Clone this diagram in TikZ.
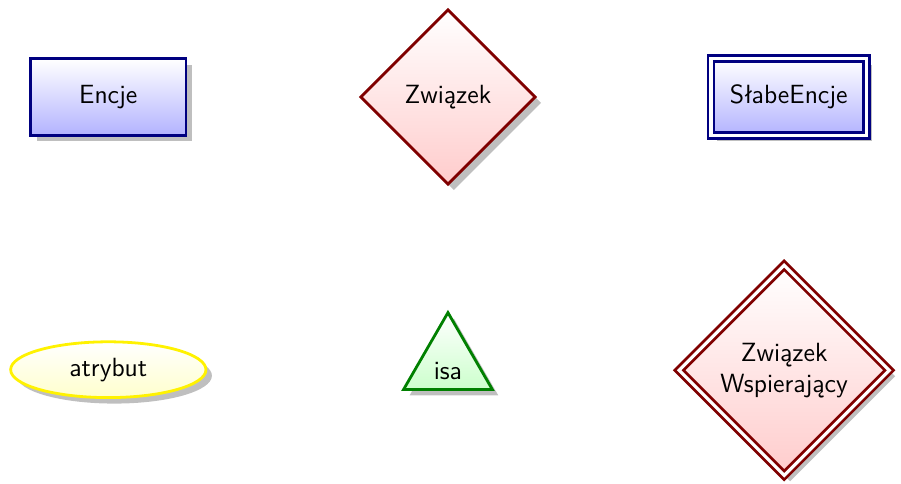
\documentclass[tikz,border=0pt]{standalone}
\usepackage{fontspec}
\usepackage{tikz}
\usetikzlibrary{shapes.geometric, shadows}

\begin{document}
\begin{tikzpicture}[
    font=\sffamily\fontsize{13.2}{15.5}\selectfont,
    ksztalt/.style={line width=1.4pt, drop shadow={shadow xshift=3pt, shadow yshift=-3pt, fill=black!50, opacity=.5}},
    encja/.style={ksztalt, rectangle, draw=blue!50!black, top color=white, bottom color=blue!30, minimum width=78pt, minimum height=38.5pt},
    slabaencja/.style={encja, double, double distance=1.6pt},
    zwiazek/.style={ksztalt, diamond, draw=red!50!black, top color=white, bottom color=red!20, minimum width=88pt, minimum height=88pt, inner sep=0pt},
    zwiazekwsp/.style={zwiazek, double, double distance=1.6pt, minimum width=106pt, minimum height=106pt, align=center},
    atr/.style={ksztalt, ellipse, draw=yellow, top color=white, bottom color=yellow!20, minimum width=98pt, minimum height=28pt},
    dziedzicz/.style={ksztalt, isosceles triangle, isosceles triangle apex angle=60, shape border rotate=90, inner sep=0.47em, draw=green!50!black, top color=white, bottom color=green!20}
]
    \useasboundingbox (0, 0) rectangle (15.89, -8.52);

    % pierwszy rząd
    \node[encja] (encje) at (1.91, -1.71) {Encje};
    \node[zwiazek] (zwiazek) at (7.90, -1.71) {Związek};
    \node[slabaencja] (slabe) at (13.91, -1.71) {SłabeEncje};

    % drugi rząd
    \node[atr] (atrybut) at (1.91, -6.52) {atrybut};
    \node[dziedzicz] (isa) at (7.90, -6.55) {isa};
    \node[zwiazekwsp] (wsp) at (13.83, -6.53) {Związek\\Wspierający};
\end{tikzpicture}
\end{document}
